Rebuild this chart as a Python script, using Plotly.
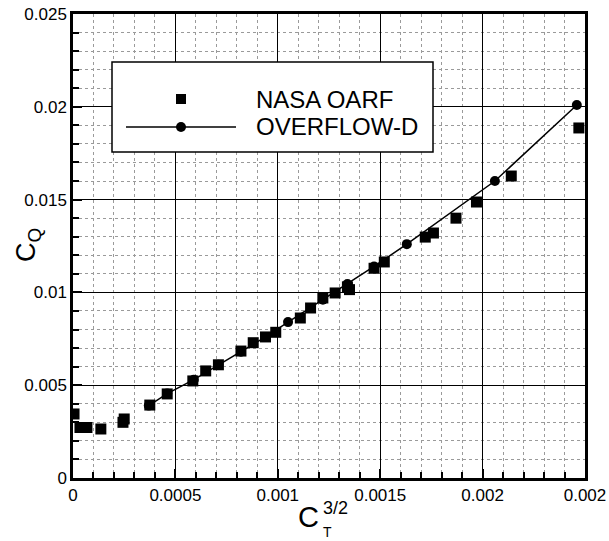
import plotly.graph_objects as go

# ---- data ----
nasa_x = [0.000005, 0.000034, 0.000068, 0.000136, 0.000244, 0.000250, 0.000375,
          0.00046, 0.000585, 0.000648, 0.00071, 0.00082, 0.00088, 0.00094,
          0.00099, 0.00111, 0.00116, 0.00122, 0.00128, 0.00134, 0.00135,
          0.00147, 0.00152, 0.00172, 0.00176, 0.00187, 0.00197, 0.00214, 0.00247]
nasa_y = [0.00345, 0.00272, 0.00272, 0.00264, 0.00300, 0.00318, 0.00393,
          0.00453, 0.00523, 0.00577, 0.00610, 0.00684, 0.00729, 0.00760,
          0.00785, 0.00862, 0.00916, 0.00970, 0.00997, 0.01030, 0.01015,
          0.01130, 0.01164, 0.01298, 0.01320, 0.01400, 0.01487, 0.01627, 0.01886]

ovf_x = [0.00037, 0.00046, 0.00059, 0.00071, 0.00082, 0.00094, 0.00105,
         0.00122, 0.00134, 0.00147, 0.00163, 0.00206, 0.00246]
ovf_y = [0.00390, 0.00455, 0.00530, 0.00610, 0.00680, 0.00760, 0.00840,
         0.00960, 0.01045, 0.01140, 0.01260, 0.01600, 0.02010]

x_tickvals = [0, 0.0005, 0.001, 0.0015, 0.002, 0.0025]
x_ticktext = ["0", "0.0005", "0.001", "0.0015", "0.002", "0.002"]
y_tickvals = [0, 0.005, 0.01, 0.015, 0.02, 0.025]
y_ticktext = ["0", "0.005", "0.01", "0.015", "0.02", "0.025"]

legend_names = ["NASA OARF", "OVERFLOW-D"]

FONT = "Liberation Sans, Arial, Helvetica, sans-serif"

fig = go.Figure()
fig.add_trace(go.Scatter(x=ovf_x, y=ovf_y, mode="lines+markers", name=legend_names[1],
                         line=dict(color="black", width=1.5),
                         marker=dict(symbol="circle", size=10, color="black"),
                         showlegend=False))
fig.add_trace(go.Scatter(x=nasa_x, y=nasa_y, mode="markers", name=legend_names[0],
                         marker=dict(symbol="square", size=11, color="black"),
                         showlegend=False))

# plot area in pixels: left 73, right 585, top 14, bottom 478
L, R, T, B = 73, 585, 14, 478
def px(X):
    return (X - L) / (R - L)
def py(Y):
    return (B - Y) / (B - T)

axis_common = dict(showline=True, linewidth=2.5, linecolor="black", mirror=True,
                   showgrid=True, gridcolor="black", gridwidth=1.3,
                   zeroline=False, ticks="inside", tickcolor="black", automargin=False,
                   tickfont=dict(family=FONT, size=17, color="black"))

minor_common = dict(showgrid=True, gridcolor="#9a9a9a", griddash="dot", gridwidth=1,
                    ticks="inside", ticklen=6, tickcolor="black", tickwidth=1.5)

fig.update_xaxes(range=[0, 0.0025], tickvals=x_tickvals, ticktext=x_ticktext,
                 ticklen=9, tickwidth=2,
                 minor=dict(dtick=0.0001, tick0=0, **minor_common),
                 **axis_common)
fig.update_yaxes(range=[0, 0.025], tickvals=y_tickvals, ticktext=y_ticktext,
                 ticklen=9, tickwidth=2,
                 minor=dict(dtick=0.001, tick0=0, **minor_common),
                 **axis_common)

# ---- legend box (drawn by hand to match the original layout) ----
shapes = [
    dict(type="rect", xref="paper", yref="paper", x0=px(112), x1=px(433),
         y0=py(152), y1=py(62), line=dict(color="black", width=1.5),
         fillcolor="white", layer="above"),
    dict(type="line", xref="paper", yref="paper", x0=px(126), x1=px(236),
         y0=py(127), y1=py(127), line=dict(color="black", width=1.5), layer="above"),
    dict(type="rect", xref="paper", yref="paper", xsizemode="pixel", ysizemode="pixel",
         xanchor=px(181), yanchor=py(99), x0=-5, x1=5, y0=-5, y1=5,
         fillcolor="black", line=dict(width=0), layer="above"),
    dict(type="circle", xref="paper", yref="paper", xsizemode="pixel", ysizemode="pixel",
         xanchor=px(181), yanchor=py(127), x0=-5, x1=5, y0=-5, y1=5,
         fillcolor="black", line=dict(width=0), layer="above"),
]

annotations = [
    dict(text=legend_names[0], xref="paper", yref="paper", x=px(254), y=py(99),
         xanchor="left", yanchor="middle", showarrow=False,
         font=dict(family=FONT, size=24, color="black")),
    dict(text=legend_names[1], xref="paper", yref="paper", x=px(254), y=py(127),
         xanchor="left", yanchor="middle", showarrow=False,
         font=dict(family=FONT, size=24, color="black")),
    # y axis title C_Q
    dict(text="C<sub>Q</sub>", xref="paper", yref="paper", x=px(28), y=py(245),
         xanchor="center", yanchor="middle", textangle=-90, showarrow=False,
         font=dict(family=FONT, size=27, color="black")),
    # x axis title C_T^{3/2}
    dict(text="C", xref="paper", yref="paper", x=px(308), y=py(517),
         xanchor="center", yanchor="middle", showarrow=False,
         font=dict(family=FONT, size=29, color="black")),
    dict(text="3/2", xref="paper", yref="paper", x=px(321), y=py(508),
         xanchor="left", yanchor="middle", showarrow=False,
         font=dict(family=FONT, size=18, color="black")),
    dict(text="T", xref="paper", yref="paper", x=px(321), y=py(532),
         xanchor="left", yanchor="middle", showarrow=False,
         font=dict(family=FONT, size=14, color="black")),
]

fig.update_layout(width=609, height=541,
                  margin=dict(l=L, r=609 - R, t=T, b=541 - B),
                  paper_bgcolor="white", plot_bgcolor="white",
                  shapes=shapes, annotations=annotations, showlegend=False)

fig.write_html("out.html", config={"displayModeBar": False},
               post_script="document.body.style.margin='0';document.body.style.overflow='hidden';")
